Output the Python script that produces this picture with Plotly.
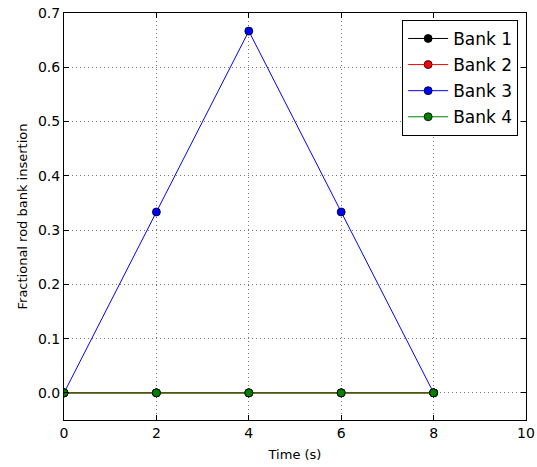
import plotly.graph_objects as go

# Rod bank insertion schedule
time_s = [0, 2, 4, 6, 8]
bank1 = [0.0, 0.0, 0.0, 0.0, 0.0]
bank2 = [0.0, 0.0, 0.0, 0.0, 0.0]
bank3 = [0.0, 1/3, 2/3, 1/3, 0.0]
bank4 = [0.0, 0.0, 0.0, 0.0, 0.0]

series = [
    ("Bank 1", bank1, "#000000"),
    ("Bank 2", bank2, "#ff0000"),
    ("Bank 3", bank3, "#0000ff"),
    ("Bank 4", bank4, "#008000"),
]

fig = go.Figure()
for name, vals, color in series:
    fig.add_trace(go.Scatter(
        x=time_s, y=vals, name=name, mode="lines+markers",
        legendgroup=name,
        line=dict(color=color, width=1),
        marker=dict(color=color, size=8, line=dict(color="black", width=0.8)),
    ))

axis_common = dict(
    showline=True, linecolor="black", linewidth=1, mirror="ticks",
    ticks="inside", ticklen=5, tickcolor="black", tickwidth=1,
    showgrid=True, gridcolor="#777777", griddash="1px,3px", gridwidth=1,
    zeroline=False, automargin=False,
    tickfont=dict(family="DejaVu Sans", size=14, color="black"),
)

title_font = dict(family="DejaVu Sans", size=13, color="black")

fig.update_xaxes(range=[0, 10], dtick=2, tickformat="d",
                 title=dict(text="Time (s)", font=title_font, standoff=10),
                 **axis_common)
fig.update_yaxes(range=[-0.05, 0.7], tick0=0, dtick=0.1, tickformat=".1f",
                 title=dict(text="Fractional rod bank insertion", font=title_font, standoff=7),
                 **axis_common)

fig.update_layout(
    width=537, height=467,
    margin=dict(l=64, r=11, t=13, b=47),
    plot_bgcolor="white", paper_bgcolor="white",
    legend=dict(x=0.983, y=0.983, xanchor="right", yanchor="top",
                bordercolor="black", borderwidth=1, bgcolor="white",
                font=dict(family="DejaVu Sans", size=17, color="black"),
                tracegroupgap=1, itemwidth=40),
)

fig.write_html("out.html")
